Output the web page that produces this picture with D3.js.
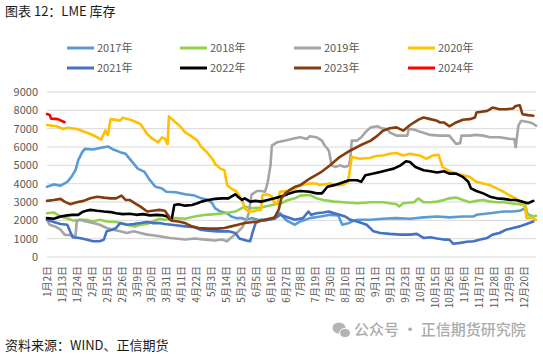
<!DOCTYPE html>
<html>
<head>
<meta charset="utf-8">
<script src="https://cdn.jsdelivr.net/npm/d3@7"></script>
<style>
  body { margin: 0; background: #fff; }
  svg { display: block; font-family: "Noto Sans CJK SC", "Noto Sans", sans-serif; }
</style>
</head>
<body>
<div id="chart"></div>
<script>
const width = 543;
const height = 354;

// legend names and colours
const seriesNames = ["2017年", "2018年", "2019年", "2020年", "2021年", "2022年", "2023年", "2024年"];
const seriesColors = ["#5B9BD5", "#92D050", "#A5A5A5", "#FFC000", "#4472C4", "#000000", "#843C0C", "#FF0000"];

// x tick labels (every 11 days) and y ticks
const xTickDates = ["1-2","1-13","1-24","2-4","2-15","2-26","3-9","3-20","3-31","4-11","4-22","5-3","5-14","5-25",
  "6-5","6-16","6-27","7-8","7-19","7-30","8-10","8-21","9-1","9-12","9-23","10-4","10-15","10-26","11-6",
  "11-17","11-28","12-9","12-20"];
const yTicks = [0, 1000, 2000, 3000, 4000, 5000, 6000, 7000, 8000, 9000];

// LME stocks, [date, value]
const s2017 = [["1-2",3830],["1-7",3960],["1-12",3890],["1-17",4100],["1-20",4370],["1-23",4730],["1-25",5270],
  ["1-28",5720],["1-30",5900],["2-5",5860],["2-10",5940],["2-16",6030],["2-20",5860],["2-25",5720],["3-1",5630],
  ["3-3",5450],["3-7",5090],["3-10",4820],["3-15",4640],["3-19",4190],["3-23",3830],["3-28",3740],["3-31",3560],
  ["4-7",3530],["4-14",3420],["4-21",3350],["4-26",3200],["5-1",3110],["5-4",2930],["5-6",2660],["5-10",2480],
  ["5-15",2390],["5-18",2210],["5-22",2120],["5-26",2120],["5-29",2030],["6-2",2120],["6-7",2030],["6-12",1980],
  ["6-17",2070],["6-21",2300],["6-23",2390],["6-26",2120],["6-29",1940],["7-4",1760],["7-8",1940],["7-15",2120],
  ["7-23",2210],["7-30",2300],["8-5",2270],["8-8",1760],["8-13",1850],["8-15",1940],["8-19",2030],["8-29",2030],
  ["9-7",2090],["9-17",2120],["9-27",2090],["10-7",2160],["10-17",2210],["10-26",2160],["11-5",2210],["11-13",2210],
  ["11-15",2300],["11-25",2390],["12-5",2480],["12-12",2480],["12-17",2520],["12-21",2660],["12-22",2390],
  ["12-24",2300],["12-27",2210]];

const s2018 = [["1-2",2390],["1-7",2430],["1-10",2300],["1-14",2160],["1-18",2090],["1-21",1980],["1-26",2030],
  ["1-31",2030],["2-5",1940],["2-10",2030],["2-15",1940],["2-22",1910],["3-2",1760],["3-8",1670],["3-12",1760],
  ["3-17",1800],["3-21",1940],["3-26",2090],["3-30",2030],["4-3",2100],["4-7",2120],["4-14",2090],["4-21",2210],
  ["4-29",2300],["5-6",2340],["5-13",2390],["5-21",2480],["5-28",2750],["6-2",2660],["6-9",2700],["6-17",2840],
  ["6-24",2930],["6-29",3110],["7-4",3200],["7-8",3350],["7-15",3380],["7-20",3200],["7-25",3110],["8-2",3020],
  ["8-9",2990],["8-19",2930],["8-29",2990],["9-7",2990],["9-17",2880],["9-19",2750],["9-22",2930],["9-30",2990],
  ["10-3",3200],["10-7",2990],["10-12",2990],["10-17",3020],["10-22",3110],["10-26",3200],["10-31",3240],
  ["11-5",3110],["11-10",2990],["11-15",3060],["11-20",3110],["11-25",3020],["11-30",2990],["12-5",2990],
  ["12-10",2930],["12-17",2880],["12-21",2840],["12-23",2300],["12-26",2210],["12-29",2250]];

const s2019 = [["1-2",2030],["1-4",1760],["1-8",1670],["1-12",1490],["1-15",1220],["1-19",1190],["1-23",1130],
  ["1-24",1940],["1-26",2030],["1-31",1940],["2-5",1850],["2-10",1760],["2-15",1580],["2-20",1490],["2-25",1400],
  ["3-2",1310],["3-7",1400],["3-12",1310],["3-17",1220],["3-21",1190],["3-26",1130],["4-3",1040],["4-7",1010],
  ["4-14",950],["4-21",1010],["4-29",950],["5-6",900],["5-11",950],["5-15",860],["5-17",1000],["5-22",1300],
  ["5-26",1600],["5-29",2000],["5-31",2400],["6-2",3400],["6-6",3600],["6-9",3600],["6-12",3560],["6-14",4100],
  ["6-16",5000],["6-17",6080],["6-21",6260],["6-27",6350],["7-4",6480],["7-8",6530],["7-13",6440],["7-15",6590],
  ["7-20",6530],["7-24",6350],["7-26",6080],["7-29",5810],["7-30",5450],["7-31",5000],["8-3",4910],["8-6",5000],
  ["8-10",4910],["8-13",5000],["8-14",5450],["8-15",6350],["8-19",6350],["8-22",6530],["8-25",6800],["8-29",7070],
  ["9-3",7130],["9-6",7020],["9-10",6980],["9-12",6800],["9-17",6620],["9-25",6620],["9-26",6980],["9-30",6950],
  ["10-4",6840],["10-12",6660],["10-19",6620],["10-26",6620],["10-29",6350],["10-31",6170],["11-3",6210],
  ["11-4",6620],["11-10",6620],["11-15",6660],["11-20",6620],["11-25",6530],["12-2",6530],["12-10",6440],
  ["12-13",6440],["12-14",5990],["12-16",7160],["12-18",7430],["12-22",7380],["12-26",7310],["12-29",7160]];

const s2020 = [["1-2",7200],["1-9",7130],["1-14",6980],["1-17",7050],["1-24",6980],["2-3",6710],["2-8",6530],
  ["2-11",6400],["2-14",6900],["2-16",6650],["2-18",7520],["2-22",7480],["2-25",7440],["2-27",7600],["3-3",7520],
  ["3-7",7420],["3-12",7250],["3-17",6710],["3-21",6440],["3-25",6260],["3-28",6530],["3-30",6440],["4-1",6150],
  ["4-2",7670],["4-7",7340],["4-10",7160],["4-14",6800],["4-18",6620],["4-23",6350],["4-26",6000],["4-30",5720],
  ["5-4",5360],["5-6",5090],["5-10",4820],["5-13",4730],["5-15",3920],["5-18",3740],["5-22",3560],["5-26",3110],
  ["5-28",2660],["5-31",2480],["6-3",2480],["6-7",2570],["6-9",2570],["6-10",3380],["6-14",3420],["6-17",3290],
  ["6-19",2930],["6-21",2930],["6-23",3560],["6-29",3600],["7-4",3740],["7-8",3920],["7-15",4010],["7-20",4010],
  ["7-22",3920],["7-30",4010],["8-5",3920],["8-9",3960],["8-12",4100],["8-13",4460],["8-15",5450],["8-21",5360],
  ["8-28",5400],["9-2",5510],["9-7",5540],["9-12",5630],["9-17",5670],["9-22",5540],["9-27",5630],["10-4",5540],
  ["10-9",5360],["10-14",5540],["10-18",5580],["10-21",4910],["10-26",4680],["10-31",4550],["11-5",4460],
  ["11-10",4370],["11-15",4100],["11-20",4010],["11-25",3920],["11-30",3740],["12-5",3560],["12-9",3380],
  ["12-14",3200],["12-19",2930],["12-21",2660],["12-22",2120],["12-27",2120],["12-29",2030]];

const s2021 = [["1-2",2030],["1-7",1910],["1-12",1800],["1-17",1760],["1-19",1400],["1-21",1080],["1-26",1040],
  ["1-31",950],["2-5",860],["2-10",860],["2-13",950],["2-15",1400],["2-19",1490],["2-22",1580],["2-25",1850],
  ["3-2",1760],["3-7",1800],["3-12",1850],["3-17",1910],["3-21",1850],["3-26",1850],["3-30",1800],["4-7",1730],
  ["4-14",1670],["4-21",1620],["4-25",1490],["5-1",1440],["5-8",1400],["5-16",1400],["5-21",1310],["5-24",1010],
  ["5-29",900],["6-1",860],["6-3",1400],["6-5",1850],["6-9",2030],["6-14",2030],["6-19",2090],["6-23",2300],
  ["6-27",2210],["7-4",2030],["7-10",2120],["7-14",2480],["7-16",2300],["7-20",2390],["7-25",2430],["7-29",2480],
  ["8-2",2390],["8-6",2300],["8-10",2210],["8-14",2030],["8-19",1940],["8-26",1760],["8-31",1400],["9-5",1310],
  ["9-12",1260],["9-20",1220],["9-27",1220],["10-2",1260],["10-7",1040],["10-12",1080],["10-17",1010],
  ["10-22",950],["10-26",950],["10-29",720],["11-3",770],["11-8",830],["11-13",860],["11-18",950],["11-23",1040],
  ["11-27",1220],["12-2",1310],["12-7",1490],["12-12",1580],["12-17",1670],["12-22",1800],["12-27",1940]];

const s2022 = [["1-2",2120],["1-7",2090],["1-12",2210],["1-17",2270],["1-21",2300],["1-25",2300],["1-28",2450],
  ["1-31",2520],["2-3",2570],["2-8",2520],["2-13",2480],["2-18",2450],["2-22",2390],["2-27",2340],["3-4",2360],
  ["3-9",2300],["3-14",2340],["3-19",2270],["3-24",2300],["3-29",2270],["4-1",2210],["4-3",2030],["4-4",2030],
  ["4-6",2840],["4-9",2880],["4-14",2800],["4-19",2840],["4-23",2930],["4-26",3020],["5-1",3110],["5-6",3170],
  ["5-11",3200],["5-16",3200],["5-18",3290],["5-21",3420],["5-23",3290],["5-26",3110],["5-28",3200],["6-1",3020],
  ["6-5",3060],["6-9",3020],["6-14",3110],["6-19",3200],["6-23",3290],["6-27",3380],["6-30",3470],["7-4",3560],
  ["7-8",3600],["7-15",3560],["7-20",3470],["7-24",3470],["7-28",3830],["8-2",3920],["8-6",4010],["8-13",4190],
  ["8-19",4190],["8-22",4100],["8-25",4460],["8-31",4550],["9-5",4640],["9-10",4730],["9-15",4820],["9-20",5000],
  ["9-24",5220],["9-27",5180],["10-1",4910],["10-7",4730],["10-12",4680],["10-17",4610],["10-22",4680],
  ["10-26",4550],["10-31",4550],["11-5",4370],["11-9",4100],["11-11",3740],["11-15",3600],["11-20",3470],
  ["11-25",3290],["11-30",3200],["12-5",3170],["12-10",3110],["12-14",3110],["12-19",3020],["12-23",2930],
  ["12-27",3060]];

const s2023 = [["1-2",3060],["1-7",3110],["1-12",3170],["1-15",3020],["1-19",2880],["1-24",2990],["1-29",3060],
  ["2-3",3200],["2-8",3290],["2-13",3240],["2-18",3200],["2-22",3200],["2-26",3350],["3-1",3110],["3-4",3110],
  ["3-8",2930],["3-12",2750],["3-17",2480],["3-21",2520],["3-26",2570],["3-30",2520],["4-2",2210],["4-4",1980],
  ["4-9",1940],["4-14",1850],["4-19",1670],["4-24",1580],["5-1",1550],["5-8",1550],["5-13",1580],["5-18",1670],
  ["5-23",1760],["5-28",1850],["6-2",1900],["6-7",1940],["6-12",2030],["6-17",2120],["6-19",2160],["6-22",2570],
  ["6-24",3200],["6-27",3470],["6-30",3650],["7-4",3830],["7-8",3920],["7-15",4280],["7-23",4610],["7-30",5000],
  ["8-6",5450],["8-14",5810],["8-21",6080],["8-29",6350],["9-3",6620],["9-7",6890],["9-12",7020],["9-17",7070],
  ["9-22",6890],["9-27",7200],["10-1",7380],["10-4",7520],["10-7",7610],["10-12",7520],["10-17",7430],
  ["10-19",7340],["10-22",7340],["10-26",7130],["10-31",7340],["11-5",7490],["11-10",7520],["11-14",7610],
  ["11-15",7880],["11-23",7970],["11-27",8150],["12-2",8060],["12-7",8060],["12-12",8100],["12-14",8240],
  ["12-17",8280],["12-19",7790],["12-23",7740],["12-27",7700]];

const s2024 = [["1-2",7800],["1-4",7750],["1-5",7550],["1-10",7520],["1-12",7450],["1-15",7350]];

const allSeries = [s2017, s2018, s2019, s2020, s2021, s2022, s2023, s2024];

// month-day string -> date in a non-leap year
const parseMD = s => {
  const [m, d] = s.split("-").map(Number);
  return new Date(2021, m - 1, d);
};

const svg = d3.select("#chart").append("svg")
  .attr("width", width)
  .attr("height", height);

svg.append("rect").attr("width", width).attr("height", height).attr("fill", "#fff");

const x = d3.scaleTime()
  .domain([parseMD("1-2"), parseMD("12-29")])
  .range([47, 536]);
const y = d3.scaleLinear()
  .domain([0, 9000])
  .range([257, 92]);

// title
svg.append("text")
  .attr("x", 5).attr("y", 16)
  .style("font-size", "13px")
  .attr("fill", "#1a1a1a")
  .text("图表 12：LME 库存");

// legend, 2 rows x 4 cols
const legendX = [67, 180, 294, 408];
const legendY = [48, 68];
seriesNames.forEach((name, i) => {
  const lx = legendX[i % 4];
  const ly = legendY[Math.floor(i / 4)];
  svg.append("line")
    .attr("x1", lx).attr("x2", lx + 27)
    .attr("y1", ly).attr("y2", ly)
    .attr("stroke", seriesColors[i])
    .attr("stroke-width", 3);
  svg.append("text")
    .attr("x", lx + 30).attr("y", ly)
    .attr("dy", "0.36em")
    .style("font-size", "11px")
    .attr("fill", "#595959")
    .text(name);
});

// gridlines
svg.append("g").selectAll("line")
  .data(yTicks)
  .enter().append("line")
  .attr("x1", 47).attr("x2", 536)
  .attr("y1", d => y(d)).attr("y2", d => y(d))
  .attr("stroke", "#D9D9D9")
  .attr("stroke-width", 1);

// y axis labels
const yAxis = svg.append("g")
  .attr("transform", "translate(47,0)")
  .call(d3.axisLeft(y).tickValues(yTicks).tickSize(0).tickPadding(9).tickFormat(d3.format("d")));
yAxis.select(".domain").remove();
yAxis.selectAll("text")
  .style("font-size", "11px")
  .style("font-family", "\"Noto Sans CJK SC\", \"Noto Sans\", sans-serif")
  .attr("fill", "#595959");

// x axis labels, rotated
const xAxis = svg.append("g")
  .attr("transform", "translate(0,257)")
  .call(d3.axisBottom(x)
    .tickValues(xTickDates.map(parseMD))
    .tickSize(0)
    .tickFormat(d => (d.getMonth() + 1) + "月" + d.getDate() + "日"));
xAxis.select(".domain").remove();
xAxis.selectAll("text")
  .attr("transform", "rotate(-90)")
  .attr("text-anchor", "end")
  .attr("x", -9)
  .attr("y", 0)
  .attr("dy", "0.36em")
  .style("font-size", "10px")
  .style("font-family", "\"Noto Sans CJK SC\", \"Noto Sans\", sans-serif")
  .attr("fill", "#595959");

// lines
const line = d3.line()
  .x(d => x(parseMD(d[0])))
  .y(d => y(d[1]));

svg.append("g").selectAll("path")
  .data(allSeries)
  .enter().append("path")
  .attr("d", line)
  .attr("fill", "none")
  .attr("stroke", (d, i) => seriesColors[i])
  .attr("stroke-width", 2.6)
  .attr("stroke-linejoin", "round")
  .attr("stroke-linecap", "round");

// source note
svg.append("text")
  .attr("x", 5).attr("y", 350)
  .style("font-size", "13px")
  .attr("fill", "#1a1a1a")
  .text("资料来源：WIND、正信期货");

// watermark
const wm = svg.append("g").attr("fill", "#b4b4b4");
wm.append("ellipse").attr("cx", 339).attr("cy", 328).attr("rx", 6.5).attr("ry", 5.5);
wm.append("ellipse").attr("cx", 345).attr("cy", 333).attr("rx", 5.5).attr("ry", 4.6)
  .attr("stroke", "#fff").attr("stroke-width", 1);
svg.append("text")
  .attr("x", 354).attr("y", 330)
  .attr("dy", "0.36em")
  .style("font-size", "15px")
  .style("font-weight", "500")
  .attr("fill", "#ababab")
  .text("公众号 · 正信期货研究院");
</script>
</body>
</html>
